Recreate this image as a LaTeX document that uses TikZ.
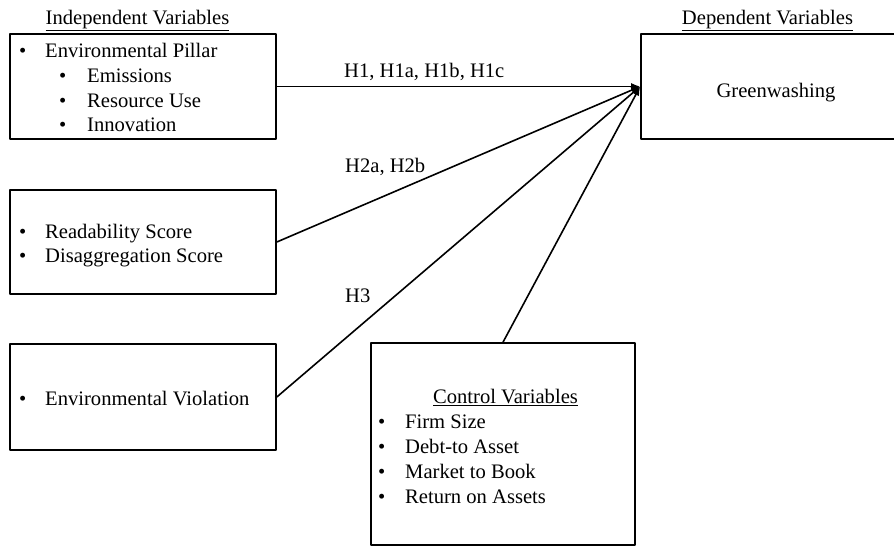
\documentclass[tikz,border=0pt]{standalone}
\usepackage{fontspec}
\setmainfont{Liberation Serif}
\usetikzlibrary{arrows.meta}
\tikzset{
  box/.style={draw,line width=1.6pt,inner sep=0pt},
  txt/.style={anchor=base west,inner sep=0pt},
  head/.style={anchor=base,inner sep=0pt},
  link/.style={line width=1.6pt,-{Latex[length=9pt,width=7pt]}}
}
\begin{document}
\begin{tikzpicture}[x=1pt,y=-1pt,line cap=round,line join=round,
  font=\fontsize{20.6}{24.5}\selectfont]
  \useasboundingbox (0,0) rectangle (894,546);

  % boxes
  \node[box,minimum width=266pt,minimum height=105pt] (env) at (143,86.5) {};
  \node[box,minimum width=266pt,minimum height=104pt] (read) at (143,242) {};
  \node[box,minimum width=266pt,minimum height=106pt] (viol) at (143,397) {};
  \node[box,minimum width=264pt,minimum height=202pt] (ctrl) at (503,444) {};
  \node[box,minimum width=259pt,minimum height=105pt] (dep) at (770.5,86.5) {};

  % headings
  \node[head] (indep) at (137.5,24) {\underline{Independent Variables}};
  \node[head] (deph) at (767.5,24) {\underline{Dependent Variables}};
  \node[head] (ctrlh) at (505.5,403) {\underline{Control Variables}};
  \node[head] (green) at (776,97) {Greenwashing};

  % independent variables
  \node[txt] (b1) at (19,57) {\textbullet};
  \node[txt] (t1) at (45,57) {Environmental Pillar};
  \node[txt] (b1a) at (59,82) {\textbullet};
  \node[txt] (t1a) at (87,82) {Emissions};
  \node[txt] (b1b) at (59,107) {\textbullet};
  \node[txt] (t1b) at (87,107) {Resource Use};
  \node[txt] (b1c) at (59,131) {\textbullet};
  \node[txt] (t1c) at (87,131) {Innovation};

  \node[txt] (b2) at (19,238) {\textbullet};
  \node[txt] (t2) at (45,238) {Readability Score};
  \node[txt] (b2a) at (19,262) {\textbullet};
  \node[txt] (t2a) at (45,262) {Disaggregation Score};

  \node[txt] (b3) at (19,405) {\textbullet};
  \node[txt] (t3) at (45,405) {Environmental Violation};

  % control variables
  \node[txt] (c1) at (378,428) {\textbullet};
  \node[txt] (ct1) at (405,428) {Firm Size};
  \node[txt] (c2) at (378,453) {\textbullet};
  \node[txt] (ct2) at (405,453) {Debt-to Asset};
  \node[txt] (c3) at (378,478) {\textbullet};
  \node[txt] (ct3) at (405,478) {Market to Book};
  \node[txt] (c4) at (378,503) {\textbullet};
  \node[txt] (ct4) at (405,503) {Return on Assets};

  % hypotheses
  \draw[link] (env.east) -- (dep.west);
  \draw[link] (read.east) -- (dep.west);
  \draw[link] (viol.east) -- (dep.west);
  \draw[link] (ctrl.north) -- (dep.west);
  \node[txt] (h1) at (344,77) {H1, H1a, H1b, H1c};
  \node[txt] (h2) at (345,172) {H2a, H2b};
  \node[txt] (h3) at (345,302) {H3};
\end{tikzpicture}
\end{document}
